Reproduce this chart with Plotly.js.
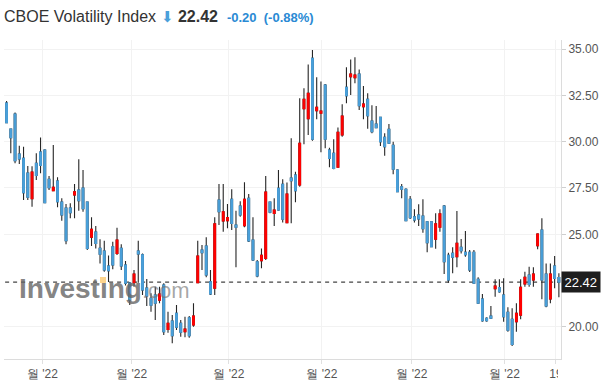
<!DOCTYPE html>
<html>
<head>
<meta charset="utf-8">
<script src="https://cdn.plot.ly/plotly-3.0.1.min.js"></script>
<style>
html,body{margin:0;padding:0;background:#fff;}
#chart{width:606px;height:388px;}
</style>
</head>
<body>
<div id="chart"></div>
<script>
// Daily candles (oldest first)
const openVals = [32.09,30.68,31.49,29.33,29.10,28.31,26.92,28.83,29.44,29.55,27.97,27.35,27.88,26.74,26.42,26.42,27.12,27.39,27.50,26.74,24.84,25.12,24.24,24.10,23.29,24.33,23.97,24.24,23.34,22.37,22.39,24.10,23.90,22.10,21.55,21.72,21.45,22.26,19.87,20.32,20.74,20.20,19.74,20.50,20.11,22.39,24.15,24.37,22.44,22.09,26.85,25.72,25.73,26.89,25.50,26.53,25.46,26.94,24.69,23.52,23.58,23.70,26.74,26.13,27.48,27.70,25.63,28.04,28.20,27.66,31.78,31.24,34.50,31.67,31.53,33.06,29.55,29.37,28.62,30.36,32.93,33.51,33.45,33.65,31.89,32.29,31.11,30.95,31.31,30.23,30.67,29.80,28.47,27.57,27.43,26.89,25.95,26.04,25.99,25.68,25.68,24.73,25.38,26.53,23.87,23.97,23.79,24.30,24.03,24.03,24.03,22.57,21.51,20.47,20.59,22.06,22.12,21.72,20.79,20.41,20.28,20.64,22.32,22.80,22.53,24.39,25.23,22.86,21.51,23.29,22.66];
const highVals = [32.19,30.70,31.58,29.78,29.73,28.69,28.67,29.37,30.23,29.59,28.15,29.82,28.08,26.94,26.64,26.67,27.71,29.05,28.47,26.76,25.92,25.45,24.73,24.65,23.85,24.60,25.36,24.46,23.56,22.43,23.07,24.65,23.97,22.59,21.82,22.17,22.17,22.36,20.82,20.64,21.18,20.37,20.55,20.59,21.28,24.65,24.42,24.84,23.07,25.92,27.71,27.71,26.64,27.43,26.27,26.78,27.81,27.17,25.92,23.61,24.24,28.15,26.76,26.94,28.47,27.97,27.79,30.18,28.38,32.34,32.88,34.17,34.95,33.47,33.24,33.11,29.67,30.13,30.77,32.02,34.01,34.44,34.55,33.90,33.00,32.61,31.96,31.92,31.35,30.45,30.95,30.00,28.51,27.71,27.48,27.07,26.35,26.62,26.89,25.72,25.68,26.13,26.35,26.58,24.01,24.30,26.26,24.75,25.18,24.15,24.15,22.68,21.78,20.52,21.13,22.57,22.57,22.63,21.06,21.01,21.28,22.57,22.98,23.25,23.22,25.05,25.86,23.43,23.43,23.83,22.90];
const lowVals = [31.00,29.37,28.83,28.79,26.85,26.85,26.49,27.93,28.29,26.70,27.39,27.34,26.46,25.73,24.46,25.86,25.86,26.27,26.22,24.15,24.37,24.24,23.43,22.98,22.43,23.11,23.88,23.07,22.23,21.18,22.17,22.39,21.72,21.13,20.82,20.37,21.28,19.57,19.69,19.12,19.84,19.47,19.44,19.42,20.01,22.39,23.07,22.68,21.72,21.72,25.50,25.14,25.32,25.23,23.22,25.95,25.38,24.58,23.56,22.68,23.17,23.61,26.13,25.45,26.27,25.63,25.63,25.59,26.73,27.57,29.86,30.36,30.05,31.21,29.43,29.64,28.62,28.51,28.62,30.27,32.07,32.52,33.15,31.71,31.21,30.70,30.45,30.72,29.77,29.24,29.87,28.24,27.27,26.94,25.73,25.83,25.63,25.45,25.09,24.03,24.30,24.22,25.14,22.86,22.39,22.90,23.22,23.97,23.79,22.97,22.32,21.24,20.28,20.28,20.43,21.63,21.85,20.28,19.74,18.97,19.74,20.41,22.17,22.17,22.17,24.19,21.49,21.06,21.28,22.09,21.60];
const closeVals = [31.02,30.21,28.97,29.06,27.25,27.00,28.36,28.18,28.72,26.71,27.51,27.54,26.76,26.04,24.65,26.17,27.30,26.81,26.38,24.24,25.27,24.51,23.92,23.07,23.04,23.34,24.69,23.29,22.36,21.45,22.86,23.94,21.99,21.67,21.18,21.28,21.78,19.74,20.20,19.53,19.98,19.71,19.89,19.53,20.59,23.83,24.01,22.80,21.78,25.56,26.22,26.22,25.90,25.59,25.38,26.04,26.89,24.64,23.61,22.75,23.87,27.28,26.19,26.31,26.31,25.81,27.17,27.89,27.35,29.91,32.29,32.61,30.13,31.85,31.65,30.13,29.10,28.56,30.51,31.38,32.48,33.65,33.60,31.94,32.03,31.40,30.54,30.75,30.00,29.73,29.91,28.51,27.30,27.43,25.73,25.90,25.77,25.83,25.30,24.55,24.33,25.56,26.10,23.52,22.53,23.76,24.51,24.12,23.90,23.07,22.36,21.28,20.34,20.34,20.47,22.21,21.90,20.55,19.83,19.06,20.74,22.14,22.68,22.30,22.86,25.02,22.53,21.13,22.86,22.62,22.42];
const candleIndex = closeVals.map((_, i) => i);

const lastPrice = 22.42;
const titleName = 'CBOE Volatility Index';
const changeText = '-0.20';
const changePct = '(-0.88%)';

const yTickVals = [20, 25, 27.5, 30, 32.5, 35];
const xTickVals = [8.42, 29.46, 52.35, 74.24, 95.41, 117.18, 129.3];
const xTickText = ["월 '22", "월 '22", "월 '22", "월 '22", "월 '22", "월 '22", "19"];

const UP = '#ff0000', DOWN = '#4aa0da', WICK = '#262626';

const bodyHigh = openVals.map((o, i) => Math.max(o, closeVals[i]));
const bodyLow = openVals.map((o, i) => Math.min(o, closeVals[i]));

const wicks = {
  type: 'candlestick', x: candleIndex,
  open: openVals, high: highVals, low: lowVals, close: closeVals,
  increasing: {line: {color: WICK, width: 1.1}, fillcolor: WICK},
  decreasing: {line: {color: WICK, width: 1.1}, fillcolor: WICK},
  whiskerwidth: 0, hoverinfo: 'skip', showlegend: false
};
const bodies = {
  type: 'candlestick', x: candleIndex,
  open: openVals, high: bodyHigh, low: bodyLow, close: closeVals,
  increasing: {line: {color: UP, width: 1.1}, fillcolor: UP},
  decreasing: {line: {color: DOWN, width: 1.1}, fillcolor: DOWN},
  whiskerwidth: 0, showlegend: false
};

const FONT = 'Liberation Sans, Arial, sans-serif';

const layout = {
  width: 606, height: 388,
  margin: {l: 4, r: 45, t: 40, b: 29},
  paper_bgcolor: '#ffffff', plot_bgcolor: '#ffffff',
  font: {family: FONT, color: '#555', size: 12},
  showlegend: false,
  boxgap: 0.42,
  title: {
    text: titleName + '\u00a0<span style="color:#4aa0da;font-size:15px">⬇</span>\u00a0<b>' + lastPrice.toFixed(2) +
      '</b>\u00a0\u00a0<span style="color:#2a8ad4;font-size:13px"><b>' + changeText + '</b>\u00a0\u00a0<b>' + changePct + '</b></span>',
    x: 4 / 606, xref: 'container', xanchor: 'left',
    y: 1 - 16 / 388, yref: 'container', yanchor: 'middle',
    font: {family: FONT, size: 16, color: '#333'},
    pad: {l: 0, t: 0, b: 0, r: 0}
  },
  xaxis: {
    range: [-0.6, 130.5],
    rangeslider: {visible: false},
    tickmode: 'array', tickvals: xTickVals, ticktext: xTickText,
    showgrid: true, gridcolor: '#f2f2f2', gridwidth: 1,
    showline: true, linecolor: '#dcdcdc', linewidth: 1,
    ticks: 'outside', ticklen: 4, tickcolor: '#e0e0e0',
    tickfont: {family: FONT, size: 12, color: '#555'},
    zeroline: false, fixedrange: true
  },
  yaxis: {
    side: 'right',
    range: [18.27, 35.486],
    tickmode: 'array', tickvals: yTickVals,
    tickformat: '.2f',
    showgrid: true, gridcolor: '#f2f2f2', gridwidth: 1,
    showline: true, linecolor: '#dcdcdc', linewidth: 1,
    ticks: 'outside', ticklen: 4, tickcolor: '#cfcfcf',
    tickfont: {family: FONT, size: 12, color: '#555'},
    zeroline: false, fixedrange: true
  },
  shapes: [
    {type: 'line', xref: 'paper', yref: 'y', x0: 0.002, x1: 0.995, y0: lastPrice, y1: lastPrice,
     line: {color: '#444', width: 1.2, dash: '4px,4px'}, layer: 'between'},
    // cover that clips the last date label at the price-axis edge
    {type: 'rect', xref: 'paper', yref: 'paper', x0: 0.9946, x1: 1.12, y0: -0.012, y1: -0.1,
     fillcolor: '#ffffff', line: {width: 0}, layer: 'above'},
    // orange dot of the watermark
    {type: 'rect', xref: 'paper', yref: 'paper', x0: (100 - 4) / 557, x1: (106 - 4) / 557,
     y0: (359 - 283) / 319, y1: (359 - 277) / 319, fillcolor: '#fdd48c', line: {width: 0}, layer: 'above'}
  ],
  annotations: [
    {xref: 'paper', yref: 'paper', x: (17 - 4) / 557, y: (359 - 288.5) / 319,
     xanchor: 'left', yanchor: 'middle', showarrow: false,
     text: '<b>Invest\u0131ng</b><span style="font-size:22px;color:rgba(115,115,115,0.78)">.com</span>',
     font: {family: FONT, size: 28, color: 'rgba(100,100,100,0.8)'}},
    {xref: 'paper', yref: 'y', x: 1, y: lastPrice, xanchor: 'left', yanchor: 'middle',
     showarrow: false, text: lastPrice.toFixed(2), bgcolor: '#1e1e1e', borderpad: 2.5,
     font: {family: FONT, size: 13, color: '#ffffff'}}
  ]
};

Plotly.newPlot('chart', [wicks, bodies], layout, {displayModeBar: false, staticPlot: true});
</script>
</body>
</html>
